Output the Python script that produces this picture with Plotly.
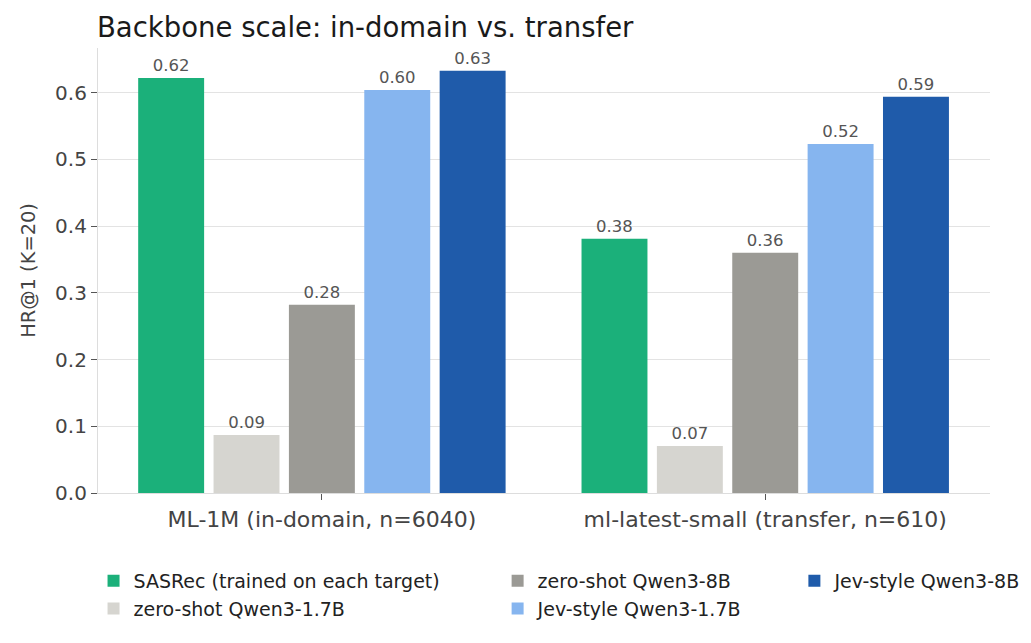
import plotly.graph_objects as go

# data
categories = ["ML-1M (in-domain, n=6040)", "ml-latest-small (transfer, n=610)"]
series_names = [
    "SASRec (trained on each target)",
    "zero-shot Qwen3-1.7B",
    "zero-shot Qwen3-8B",
    "Jev-style Qwen3-1.7B",
    "Jev-style Qwen3-8B",
]
sasrec = [0.622, 0.381]
zs_17b = [0.087, 0.0705]
zs_8b = [0.282, 0.360]
jev_17b = [0.604, 0.523]
jev_8b = [0.633, 0.594]
series_values = [sasrec, zs_17b, zs_8b, jev_17b, jev_8b]

colors = ["#1BB07A", "#D6D5D0", "#9B9A95", "#86B5EF", "#1F5BAA"]
# matplotlib-style column legend: which legend box each series goes in
legend_ids = ["legend", "legend", "legend2", "legend2", "legend3"]

FONT = "DejaVu Sans"
# page body has an 8px margin, so the figure is drawn 8px smaller
W, H = 1023, 635

fig = go.Figure()
for name, vals, col, lg in zip(series_names, series_values, colors, legend_ids):
    fig.add_trace(go.Bar(
        x=categories, y=vals, name=name, marker=dict(color=col, line=dict(width=0)),
        text=[f"{v:.2f}" for v in vals], textposition="outside",
        textfont=dict(size=16.5, color="#555555", family=FONT),
        cliponaxis=False, legend=lg,
    ))

leg = dict(orientation="v", yanchor="top", xanchor="left", bgcolor="rgba(0,0,0,0)",
           font=dict(size=19, color="#222222", family=FONT), tracegroupgap=4)

fig.update_layout(
    width=W, height=H,
    # legends sit outside the plot, keep them from pushing the margins
    margin=dict(l=90, r=41, t=40, b=150, autoexpand=False),
    paper_bgcolor="white", plot_bgcolor="white",
    font=dict(family=FONT, color="#444444"),
    title=dict(text="Backbone scale: in-domain vs. transfer", x=89 / W, xanchor="left",
               y=1 - 19 / H, yanchor="middle",
               font=dict(size=27.5, color="#1a1a1a", family=FONT)),
    barmode="group", bargap=0.15, bargroupgap=0.125,
    legend=dict(leg, x=-0.005, y=-0.155),
    legend2=dict(leg, x=0.448, y=-0.155),
    legend3=dict(leg, x=0.7807, y=-0.155),
    showlegend=True,
)
fig.update_yaxes(
    range=[0, 0.667], dtick=0.1, tickformat=".1f",
    showgrid=True, gridcolor="#E3E3E3", gridwidth=1,
    showline=True, linecolor="#DDDDDD", linewidth=1.2,
    ticks="outside", ticklen=6, tickcolor="#555555",
    tickfont=dict(size=20, color="#444444"),
    title=dict(text="HR@1 (K=20)", font=dict(size=19.4, color="#444444"), standoff=14),
    zeroline=False,
)
fig.update_xaxes(
    range=[-0.505, 1.507],
    showline=True, linecolor="#DDDDDD", linewidth=1.2,
    ticks="outside", ticklen=6, tickcolor="#555555",
    tickfont=dict(size=22, color="#444444"),
)

fig.write_html("out.html")
